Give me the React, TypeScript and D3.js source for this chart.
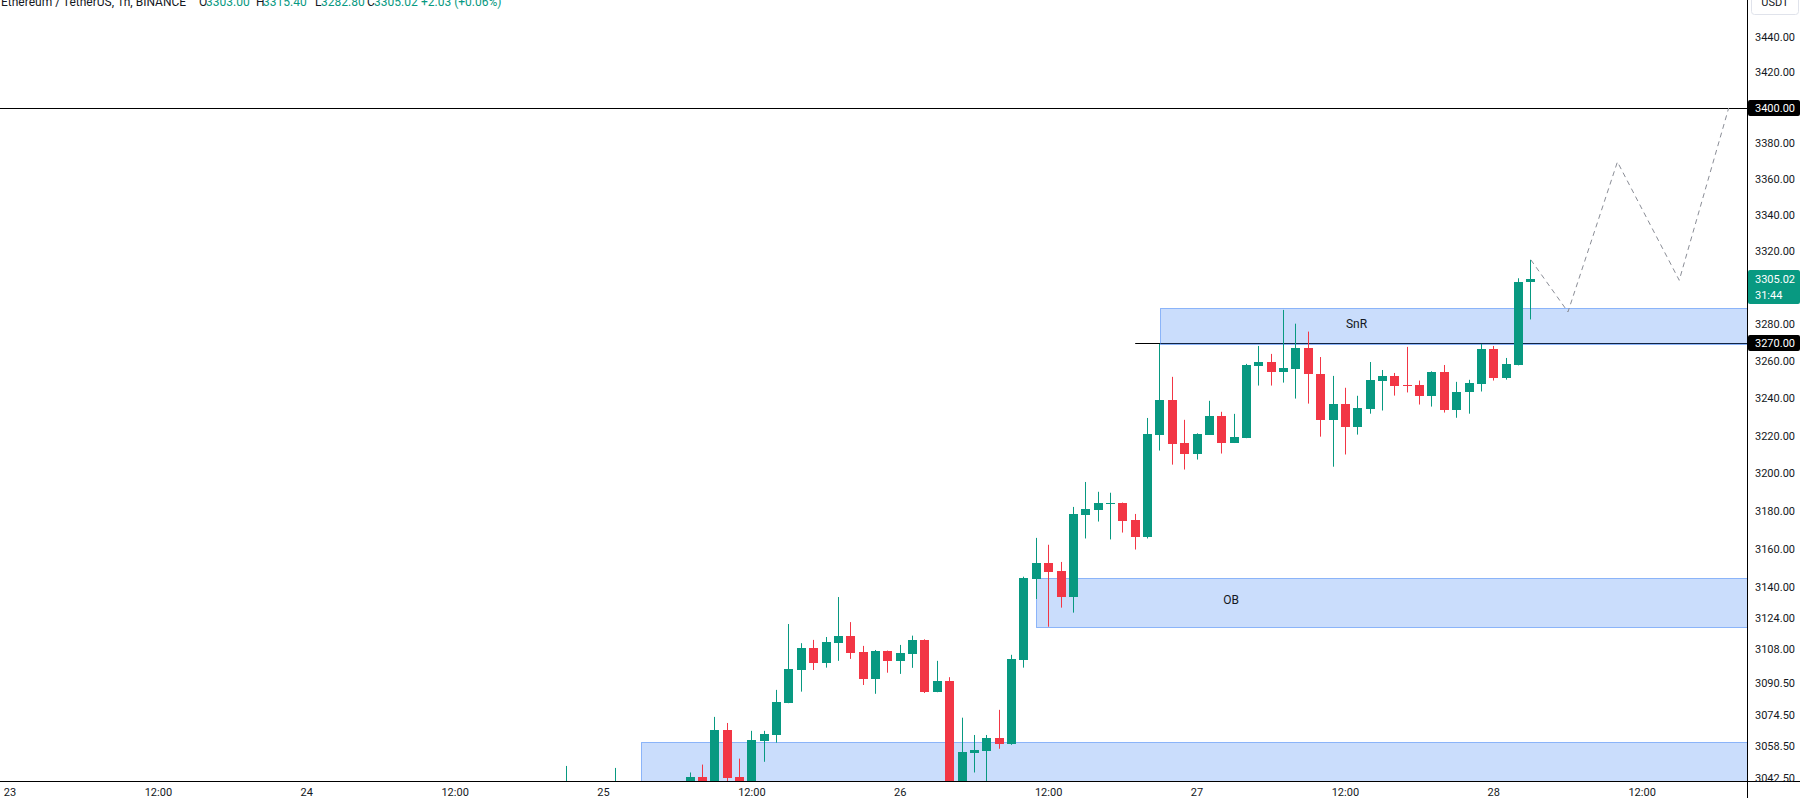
import React from "react";
import * as d3 from "d3";

// ---------- data ----------
// hour offset from 23 00:00 (1h candles)
const candleHours = [45, 49, 55, 56, 57, 58, 59, 60, 61, 62, 63, 64, 65, 66, 67, 68, 69, 70, 71, 72, 73, 74, 75, 76, 77, 78, 79, 80, 81, 82, 83, 84, 85, 86, 87, 88, 89, 90, 91, 92, 93, 94, 95, 96, 97, 98, 99, 100, 101, 102, 103, 104, 105, 106, 107, 108, 109, 110, 111, 112, 113, 114, 115, 116, 117, 118, 119, 120, 121, 122, 123];
const opens = [3030, 3028, 3034, 3042.9, 3036, 3066.8, 3042.9, 3037, 3061.3, 3064.2, 3080.6, 3097.4, 3108.6, 3101.2, 3111.5, 3114.9, 3106.7, 3092.8, 3107.2, 3102.2, 3105.8, 3112.9, 3086.2, 3091.8, 3032, 3055.3, 3056.3, 3062.7, 3059.5, 3102.6, 3144.6, 3152.9, 3148.7, 3135.3, 3178.3, 3180.9, 3184.2, 3184.4, 3175.5, 3166.7, 3220.7, 3239.3, 3216.3, 3210.6, 3220.7, 3230.7, 3216.4, 3219.0, 3257.7, 3259.7, 3254.1, 3256.1, 3267.3, 3253.4, 3228.7, 3237.1, 3225.0, 3234.6, 3249.7, 3252.2, 3247.2, 3247.2, 3241.6, 3254.5, 3234.1, 3243.3, 3248.1, 3266.8, 3251.3, 3258.1, 3303.0];
const highs = [3048.5, 3047.5, 3045.2, 3049.2, 3073.4, 3070.3, 3052.2, 3066.3, 3066.3, 3087.2, 3121.1, 3111.2, 3112.9, 3114.4, 3135.1, 3122.1, 3109.8, 3107.7, 3107.4, 3110.3, 3115.1, 3113.2, 3102.1, 3093.7, 3073.0, 3064.2, 3064.2, 3077.0, 3105.2, 3145.7, 3166.0, 3162.4, 3153.4, 3182.3, 3195.5, 3190.3, 3189.8, 3184.6, 3178.6, 3229.6, 3269.5, 3251.7, 3228.6, 3221.4, 3238.8, 3232.9, 3231.8, 3258.7, 3268.4, 3264.1, 3288.0, 3280.5, 3276.2, 3262.4, 3252.2, 3245.8, 3241.5, 3259.7, 3255.4, 3253.8, 3267.9, 3249.7, 3254.7, 3258.1, 3249.0, 3250.1, 3269.5, 3268.4, 3261.9, 3305.3, 3315.4];
const lows = [3022, 3020, 3030, 3032, 3033, 3035, 3034, 3035, 3050.6, 3060.3, 3080.4, 3086.3, 3097.4, 3098.6, 3102.1, 3103.1, 3089.7, 3085.2, 3096.0, 3095.4, 3098.5, 3085.6, 3086.0, 3025, 3028, 3045.2, 3038, 3057.2, 3059.2, 3098.6, 3134.1, 3119.7, 3129.6, 3127.0, 3165.7, 3174.6, 3165.2, 3168.8, 3159.9, 3165.7, 3212.2, 3204.7, 3202.1, 3207.4, 3220.5, 3210.6, 3216.2, 3218.8, 3247.0, 3247.0, 3248.6, 3240.0, 3237.3, 3219.6, 3203.6, 3210.1, 3220.7, 3231.9, 3233.6, 3241.6, 3243.3, 3236.8, 3235.7, 3232.5, 3229.7, 3231.9, 3243.8, 3249.7, 3250.2, 3257.9, 3282.8];
const closes = [3036, 3035, 3042.8, 3037, 3066.8, 3042.6, 3038, 3061.7, 3064.7, 3081.1, 3097.9, 3108.6, 3101.2, 3111.7, 3114.9, 3106.3, 3092.8, 3107.2, 3102.2, 3106.2, 3112.9, 3086.2, 3091.8, 3030, 3055.6, 3056.6, 3062.7, 3059.6, 3103.1, 3145.0, 3152.9, 3148.3, 3135.3, 3178.6, 3181.3, 3184.4, 3184.6, 3175.1, 3166.7, 3221.0, 3239.3, 3215.9, 3210.6, 3221.0, 3230.7, 3216.4, 3219.4, 3258.1, 3259.7, 3254.1, 3256.5, 3267.3, 3253.1, 3228.7, 3237.1, 3225.0, 3235.0, 3250.1, 3252.2, 3247.0, 3246.9, 3241.6, 3254.5, 3234.1, 3243.6, 3248.5, 3266.8, 3251.3, 3258.7, 3303.0, 3305.02];

// projection (dashed path)
const projHours = [123, 126, 130, 135, 139];
const projPrices = [3315.4, 3286.9, 3369.7, 3304.2, 3400];

// horizontal levels
const levelHigh = 3400;
const levelSnR = 3270;
const levelSnRStart = 91;

// zones
const zoneStart = [93, 83, 51];
const zoneTop = [3289.1, 3145.0, 3060.5];
const zoneBottom = [3269.5, 3119.6, 3030];
const zoneLabels = ["SnR", "OB", ""];
const zoneLabelHours = [108.9, 98.75, 0];

// axes
const priceTicks = [3440, 3420, 3380, 3360, 3340, 3320, 3280, 3260, 3240, 3220, 3200, 3180, 3160, 3140, 3124, 3108, 3090.5, 3074.5, 3058.5, 3042.5];
const timeTickHours = [0, 12, 24, 36, 48, 60, 72, 84, 96, 108, 120, 132];
const timeTickLabels = ["23", "12:00", "24", "12:00", "25", "12:00", "26", "12:00", "27", "12:00", "28", "12:00"];

const lastPrice = 3305.02;
const countdown = "31:44";

const headerTexts = ["Ethereum / TetherUS, 1h, BINANCE", "O", "3303.00", "H", "3315.40", "L", "3282.80", "C", "3305.02", "+2.03 (+0.06%)"];
const headerIsValue = [false, false, true, false, true, false, true, false, true, true];
const headerX = [1, 199, 206, 256, 263, 315, 321, 367, 374, 421];

// ---------- layout ----------
const W = 1800;
const H = 798;
const PLOT_R = 1747;
const PLOT_B = 781;
const UP = "#089981";
const DOWN = "#F23645";
const INK = "#131722";
const FONT = "Roboto, 'Liberation Sans', Arial, sans-serif";

export default function App() {
  const x = d3.scaleLinear().domain([-0.81, 140.48]).range([0, PLOT_R]);
  const y = d3.scaleLog().domain([3040.9, 3461.4]).range([PLOT_B, 0]);
  const step = x(1) - x(0);
  const bw = Math.round(step * 0.73);

  const candles = candleHours.map((h, i) => ({ h, o: opens[i], hi: highs[i], lo: lows[i], c: closes[i] }));
  const projLine = d3
    .line<number>()
    .x((_, i) => x(projHours[i]))
    .y((p) => y(p))(projPrices) as string;

  const crisp = (v: number) => Math.round(v) + 0.5;

  const yLast = y(lastPrice);
  const greenTop = Math.round(yLast) - 9;

  return (
    <div style={{ position: "fixed", left: 0, top: 0, width: W, height: H, background: "#fff" }}>
      <svg width={W} height={H} style={{ display: "block", fontFamily: FONT }}>
        <defs>
          <clipPath id="plot">
            <rect x={0} y={0} width={PLOT_R} height={PLOT_B} />
          </clipPath>
        </defs>
        <rect x={0} y={0} width={W} height={H} fill="#fff" />

        <g clipPath="url(#plot)">
          <line x1={0} x2={PLOT_R} y1={crisp(y(levelHigh))} y2={crisp(y(levelHigh))} stroke="#000" strokeWidth={1} />
          <line x1={x(levelSnRStart)} x2={PLOT_R} y1={crisp(y(levelSnR))} y2={crisp(y(levelSnR))} stroke="#000" strokeWidth={1} />

          {zoneStart.map((s, i) => {
            const x0 = Math.round(x(s)) + 0.5;
            const y0 = Math.round(y(zoneTop[i])) + 0.5;
            const y1 = Math.round(y(zoneBottom[i])) + 0.5;
            return (
              <rect key={"z" + i} x={x0} y={y0} width={PLOT_R + 10 - x0} height={y1 - y0} fill="rgba(66,133,244,0.28)" stroke="rgba(66,133,244,0.55)" strokeWidth={1} />
            );
          })}

          {candles.map((d, i) => {
            const col = d.c >= d.o ? UP : DOWN;
            const cx = x(d.h);
            const top = y(Math.max(d.o, d.c));
            const bot = y(Math.min(d.o, d.c));
            const bx = Math.round(cx - bw / 2);
            const by = Math.round(top);
            const bh = Math.max(1, Math.round(bot) - by);
            return (
              <g key={"c" + i}>
                <line x1={crisp(cx - 0.5)} x2={crisp(cx - 0.5)} y1={y(d.hi)} y2={y(d.lo)} stroke={col} strokeWidth={1} />
                <rect x={bx} y={by} width={bw} height={bh} fill={col} />
              </g>
            );
          })}

          <path d={projLine} fill="none" stroke="#8a8d96" strokeWidth={1} strokeDasharray="5 4" />

          {zoneLabels.map((t, i) =>
            t ? (
              <text key={"zl" + i} x={x(zoneLabelHours[i])} y={(y(zoneTop[i]) + y(zoneBottom[i])) / 2 + 2} fontSize={12} fill={INK} textAnchor="middle">
                {t}
              </text>
            ) : null
          )}
        </g>

        {headerTexts.map((t, i) => (
          <text key={"h" + i} x={headerX[i]} y={6} fontSize={12} fill={headerIsValue[i] ? UP : INK}>
            {t}
          </text>
        ))}

        <line x1={0} x2={W} y1={PLOT_B + 0.5} y2={PLOT_B + 0.5} stroke="#000" strokeWidth={1} />
        <line x1={PLOT_R + 0.5} x2={PLOT_R + 0.5} y1={0} y2={H} stroke="#000" strokeWidth={1} />

        {priceTicks.map((p) => (
          <text key={"p" + p} x={1755} y={y(p)} dy="0.35em" fontSize={11} fill={INK}>
            {p.toFixed(2)}
          </text>
        ))}

        <rect x={1751.5} y={-8.5} width={47} height={23} rx={3} fill="#fff" stroke="#e0e3eb" />
        <text x={1775} y={6} fontSize={11} fill={INK} textAnchor="middle">USDT</text>

        {[levelHigh, levelSnR].map((lv) => (
          <g key={"lv" + lv}>
            <rect x={PLOT_R + 1} y={Math.round(y(lv)) - 8} width={W - PLOT_R - 1} height={16} rx={2} fill="#000" />
            <text x={1755} y={y(lv)} dy="0.35em" fontSize={11} fill="#fff">
              {lv.toFixed(2)}
            </text>
          </g>
        ))}

        <rect x={PLOT_R + 1} y={greenTop} width={W - PLOT_R - 1} height={34} rx={2} fill={UP} />
        <text x={1755} y={yLast} dy="0.35em" fontSize={11} fill="#fff">
          {lastPrice.toFixed(2)}
        </text>
        <text x={1755} y={yLast + 16} dy="0.35em" fontSize={11} fill="#fff">
          {countdown}
        </text>

        {timeTickHours.map((h, i) => (
          <text key={"t" + i} x={x(h)} y={796} fontSize={11} fill={INK} textAnchor="middle">
            {timeTickLabels[i]}
          </text>
        ))}
      </svg>
    </div>
  );
}
